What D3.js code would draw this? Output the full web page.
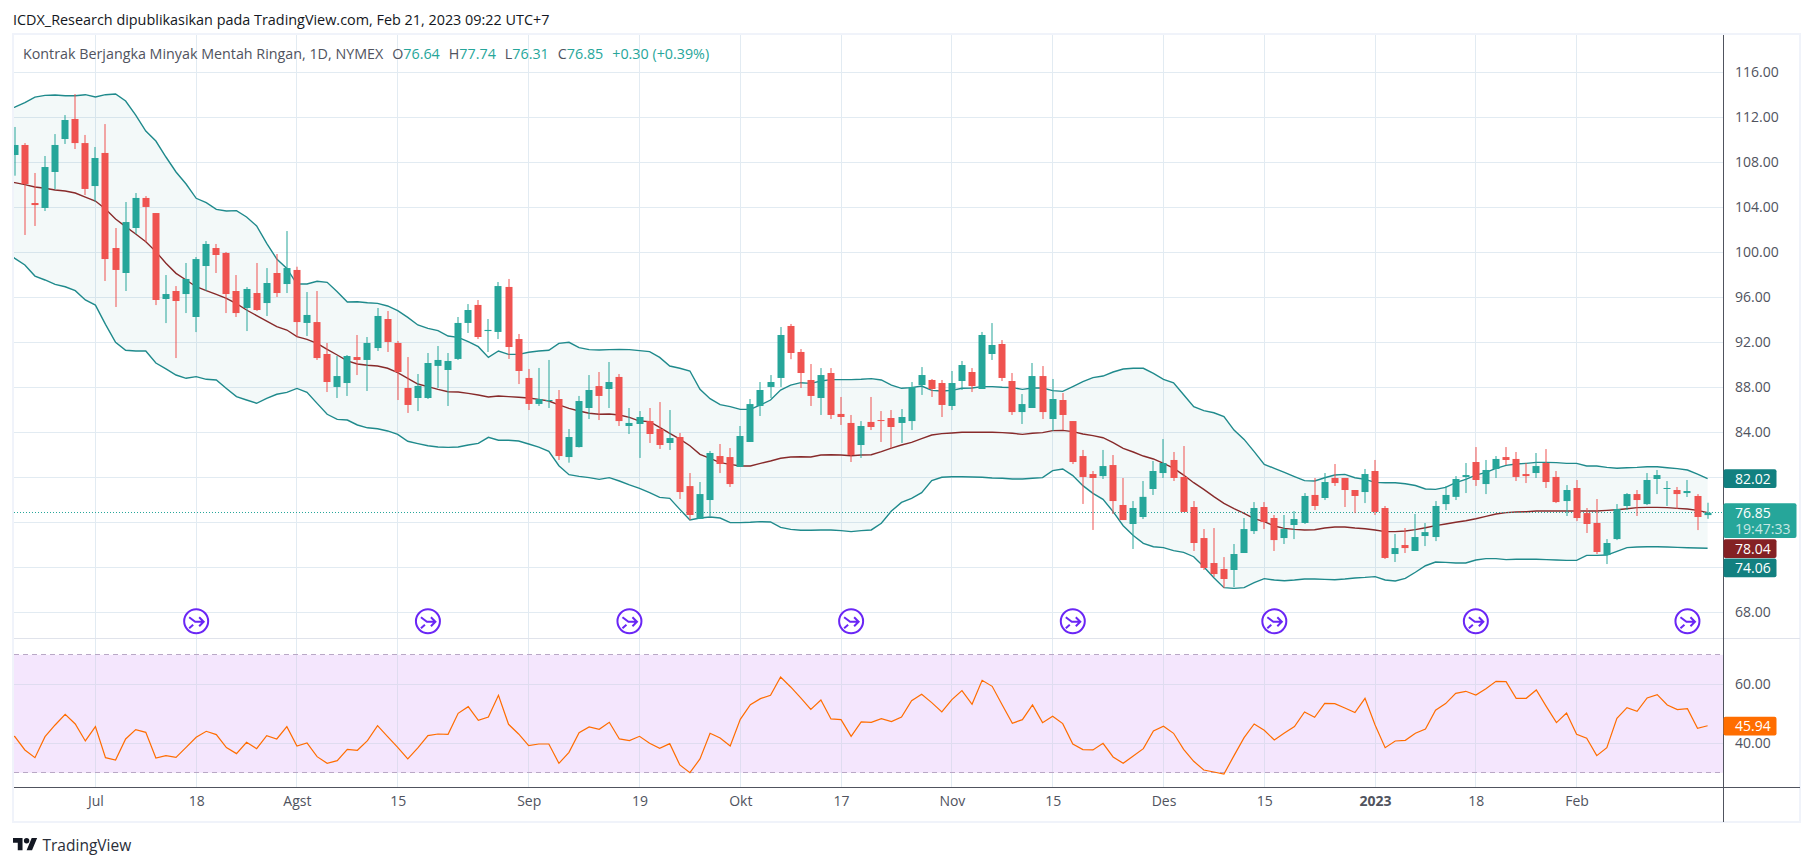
<!DOCTYPE html>
<html lang="id">
<head>
<meta charset="UTF-8">
<title>Kontrak Berjangka Minyak Mentah Ringan, 1D, NYMEX</title>
<style>
    body { margin: 0; background: #fff; }
    text { font-family: "Open Sans", sans-serif; }
</style>
</head>
<body>
<div class="graph-container"></div>
<script src="https://d3js.org/d3.v7.min.js"></script>
<script>
var opens = [108.65,109.54,104.38,103.94,107.14,110.07,111.85,109.71,105.89,108.83,
    100.38,98.16,102.16,104.83,103.49,95.85,96.56,96.29,94.25,98.78,
    100.38,99.94,96.56,95.05,96.38,95.49,98.16,97.18,98.43,93.72,
    93.8,90.96,88.03,88.38,90.69,90.43,91.49,94.07,91.94,87.94,
    87.05,87.05,89.9,89.54,90.52,93.72,95.32,93.0,92.92,96.92,
    92.29,88.83,86.52,86.78,86.96,81.8,82.69,86.16,88.11,87.85,
    88.92,84.56,84.74,85.0,84.29,83.05,83.58,79.22,76.3,77.98,
    81.89,81.8,80.92,83.14,86.34,88.03,88.83,93.45,91.14,88.65,
    87.05,89.27,85.63,84.83,82.87,84.92,85.09,85.27,84.83,85.0,
    88.2,88.65,88.38,86.34,88.56,89.36,87.85,90.96,91.85,88.56,
    85.8,86.16,89.0,85.18,86.87,85.0,81.89,80.29,80.11,81.09,
    77.54,75.85,76.47,78.96,80.38,81.54,80.03,77.36,74.6,72.38,
    71.85,71.76,73.27,75.22,77.36,76.38,74.6,75.76,75.94,78.43,
    78.16,79.94,79.94,78.87,78.69,80.56,77.27,73.18,73.98,73.45,
    74.78,74.69,77.62,78.26,80.03,81.36,79.4,80.74,81.8,81.63,
    80.29,80.38,81.27,80.03,77.89,79.05,76.82,75.94,73.09,74.51,
    77.45,78.51,77.62,79.85,78.96,78.87,78.6,78.34,76.64];
var highs = [111.14,109.71,107.05,108.56,110.51,112.2,114.07,110.43,109.36,111.4,
    102.16,104.47,105.27,105.0,103.49,97.98,97.0,99.05,99.58,101.0,
    100.74,100.03,97.98,96.91,99.05,98.6,99.85,101.89,98.72,96.47,
    96.56,91.94,90.78,90.87,92.65,92.47,95.05,94.78,92.12,90.69,
    89.18,91.05,91.67,91.05,94.25,95.4,95.76,94.07,97.36,97.63,
    92.74,89.63,89.72,90.43,87.76,84.29,87.23,89.09,89.36,90.25,
    89.18,86.16,85.89,86.16,86.69,85.98,83.94,80.38,79.58,82.34,
    82.96,82.6,84.56,86.96,88.47,89.09,93.36,93.63,91.4,90.07,
    89.71,89.71,87.14,85.54,85.0,87.14,85.89,85.98,86.07,88.47,
    89.8,88.74,88.65,89.45,90.34,89.71,92.92,93.71,92.2,89.27,
    87.4,90.16,89.89,88.74,87.49,85.0,82.43,80.56,82.43,81.98,
    79.94,77.89,79.67,81.45,83.4,82.25,82.78,77.89,75.4,75.49,
    72.91,74.07,76.38,77.8,77.8,76.65,76.65,77.0,78.6,79.94,
    80.38,81.18,79.94,78.87,80.74,81.54,77.45,74.96,75.49,76.74,
    75.94,77.89,79.23,80.11,81.27,82.69,81.54,81.89,82.69,82.25,
    81.27,82.16,82.51,80.56,79.31,79.76,77.27,78.07,74.51,77.62,
    78.6,78.87,80.38,80.65,79.67,79.14,79.76,78.51,77.74];
var lows = [106.81,101.54,102.34,103.67,105.6,109.63,109.18,105.09,104.5,97.45,
    95.14,96.56,101.63,100.91,95.31,93.71,90.6,94.6,92.91,96.56,
    98.16,94.6,94.25,93.0,94.78,94.34,96.03,96.38,92.5,92.56,
    90.43,87.58,87.05,87.23,89.09,87.67,91.23,91.14,86.87,85.72,
    85.89,86.96,87.94,86.34,90.43,92.83,92.29,91.14,92.29,90.52,
    88.29,85.98,86.34,86.16,81.54,81.3,82.65,85.18,85.09,86.16,
    84.56,83.85,81.72,83.05,82.52,82.43,78.07,76.2,76.29,76.56,
    80.38,79.14,80.92,83.14,85.45,87.05,88.03,90.5,87.94,86.34,
    85.54,85.18,84.65,81.36,81.72,84.2,83.14,82.6,83.05,84.2,
    87.32,87.14,85.36,85.98,87.76,87.58,87.85,90.43,88.56,85.54,
    84.74,86.16,85.18,84.12,84.2,81.18,77.63,75.32,79.85,76.74,
    76.2,73.63,76.29,78.43,79.94,79.67,76.92,73.45,71.76,71.14,
    70.16,70.25,73.27,74.96,75.4,73.45,74.07,74.51,75.85,77.09,
    77.98,79.23,77.36,76.82,77.71,76.65,72.74,72.47,73.27,73.45,
    73.89,74.33,77.09,77.98,78.6,79.23,78.51,79.94,81.09,79.67,
    79.49,79.94,79.05,77.71,76.56,76.11,75.05,73.18,72.29,74.42,
    77.09,76.56,77.53,78.51,77.45,77.18,78.25,75.31,76.31];
var closes = [109.54,106.07,104.2,107.58,109.54,111.76,109.71,105.63,108.38,99.4,
    98.43,102.69,104.83,104.03,95.76,96.29,95.67,97.63,99.4,100.74,
    99.76,96.29,94.6,96.74,94.87,97.27,96.38,98.6,93.8,94.43,
    90.6,88.47,89.0,90.78,90.43,91.94,94.34,92.03,89.36,86.43,
    88.12,90.16,90.43,90.34,93.72,94.87,92.47,93.1,97.0,91.58,
    89.45,86.52,86.96,86.87,81.89,83.58,86.78,87.76,87.23,88.47,
    85.0,84.83,85.36,83.85,82.87,83.49,78.69,76.65,78.51,82.16,
    81.18,79.4,83.67,86.51,87.76,88.47,92.65,91.05,89.27,87.23,
    89.09,85.54,85.36,81.98,84.56,84.47,85.0,84.47,85.36,88.03,
    89.09,87.85,86.43,88.38,89.98,88.11,92.65,91.76,88.83,85.8,
    86.51,89.0,85.8,86.96,85.54,81.36,80.03,79.94,81.0,77.89,
    76.2,77.27,78.26,80.56,81.27,79.94,76.92,74.16,71.94,71.4,
    70.96,73.18,75.4,77.27,76.03,74.42,75.4,76.29,78.34,77.45,
    79.58,79.49,78.87,78.34,80.29,76.92,72.83,73.71,73.71,74.69,
    75.13,77.45,78.43,79.85,80.2,79.76,80.65,81.63,81.54,80.03,
    80.11,81.0,79.58,77.8,78.87,76.38,75.85,73.36,74.16,77.18,
    78.51,77.98,79.76,80.2,79.05,78.51,78.78,76.47,76.85];
// bar -1 of each indicator, only its last stretch shows at the left edge
var bbUpper = [112.6,112.91,113.3,113.8,113.95,113.98,113.92,113.92,114.01,113.8,114.01,
    114.07,113.45,112.2,110.78,109.89,108.47,107.14,106.07,104.8,104.41,
    103.82,103.67,103.7,103.14,102.34,100.8,99.4,98.57,97.18,97.18,
    97.42,97.33,96.5,95.58,95.61,95.52,95.46,95.23,94.81,94.22,
    93.54,93.24,93.04,92.56,92.44,92.06,91.61,90.66,91.23,90.93,
    90.93,91.11,91.23,91.29,91.91,92.0,91.52,91.35,91.32,91.35,
    91.37,91.35,91.26,91.17,90.66,89.89,89.69,89.45,87.82,86.99,
    86.46,86.28,86.04,86.04,86.43,86.87,87.76,88.2,88.41,88.35,
    88.56,88.68,88.68,88.68,88.71,88.77,88.65,88.2,87.91,87.97,
    88.11,87.73,87.67,87.73,87.91,87.94,88.06,88.06,88.0,87.97,
    87.82,87.94,87.94,87.7,87.64,88.06,88.5,88.86,89.0,89.36,
    89.63,89.69,89.69,89.24,88.7,88.4,87.34,86.27,85.92,85.74,
    85.39,84.2,83.37,82.28,81.15,80.8,80.44,80.06,79.7,79.67,
    79.96,80.2,80.26,79.96,79.82,79.55,79.52,79.52,79.43,79.27,
    78.96,78.93,79.1,79.52,79.82,80.2,80.44,80.8,81.06,81.18,
    81.24,81.33,81.33,81.3,81.24,81.24,81.0,81.0,80.88,80.8,
    80.85,80.88,80.94,80.94,80.85,80.77,80.65,80.29,79.88];
var bbBasis = [106.35,106.19,106.01,105.8,105.69,105.54,105.45,105.27,104.91,104.56,103.85,
    102.96,102.28,101.63,100.94,100.06,99.02,98.13,97.54,96.94,96.59,
    96.26,95.91,95.43,94.87,94.37,93.89,93.39,93.09,92.5,92.26,
    91.91,91.37,90.87,90.34,90.07,89.96,89.89,89.69,89.3,88.8,
    88.29,88.06,87.82,87.61,87.58,87.46,87.32,87.14,87.23,87.17,
    87.11,87.05,86.93,86.78,86.43,86.13,85.89,85.69,85.6,85.63,
    85.54,85.33,85.0,84.95,84.44,83.91,83.4,82.81,82.04,81.69,
    81.3,81.15,81.0,81.0,81.24,81.45,81.69,81.8,81.83,81.8,
    81.98,82.01,81.98,81.92,81.98,82.01,82.28,82.6,82.87,83.11,
    83.43,83.76,83.88,83.94,84.0,84.0,84.0,84.0,83.97,83.91,
    83.82,83.91,83.97,84.15,84.17,84.06,83.85,83.7,83.52,83.08,
    82.57,82.25,81.89,81.63,81.24,80.82,80.2,79.52,78.93,78.28,
    77.68,77.21,76.8,76.32,76.06,75.67,75.46,75.37,75.31,75.34,
    75.49,75.58,75.58,75.49,75.43,75.31,75.17,75.17,75.23,75.35,
    75.52,75.7,75.85,76.0,76.14,76.32,76.53,76.74,76.86,76.91,
    76.94,77.0,77.0,77.0,77.0,77.0,77.0,77.0,77.06,77.12,
    77.21,77.3,77.33,77.33,77.3,77.24,77.18,77.06,76.86];
var bbLower = [100.1,99.46,98.87,97.89,97.54,97.15,96.94,96.59,95.76,95.31,93.6,
    92.0,91.29,91.23,91.23,90.16,89.63,89.09,88.8,88.95,88.71,
    88.65,87.9,87.17,86.87,86.58,87.02,87.38,87.55,87.9,87.55,
    86.57,85.6,85.15,85.09,84.65,84.4,84.32,84.12,83.82,83.2,
    82.99,82.8,82.69,82.66,82.69,82.87,83.02,83.55,83.29,83.29,
    83.23,82.96,82.69,82.31,81.03,80.23,80.08,79.97,79.82,79.97,
    79.67,79.32,79.02,78.63,78.22,78.13,77.15,76.2,76.38,76.47,
    76.38,75.97,75.97,76.0,76.06,76.03,75.55,75.37,75.29,75.29,
    75.32,75.32,75.26,75.17,75.26,75.32,75.91,77.0,77.77,78.13,
    78.63,79.7,80.0,80.05,80.05,80.03,80.0,79.94,79.91,79.85,
    79.85,79.91,79.97,80.59,80.74,80.15,79.26,78.57,78.04,76.95,
    75.7,74.82,74.13,73.83,73.75,73.48,73.33,72.94,72.05,71.08,
    70.19,70.13,70.19,70.63,70.99,70.87,70.81,70.87,70.96,70.96,
    70.93,70.9,70.96,71.05,71.1,71.17,70.87,70.78,71.02,71.56,
    72.14,72.47,72.44,72.38,72.38,72.65,72.77,72.77,72.68,72.71,
    72.71,72.71,72.68,72.65,72.62,72.62,73.06,73.06,73.09,73.42,
    73.75,73.8,73.83,73.83,73.8,73.77,73.74,73.71,73.69];
var rsiValues = [43.2,42.26,37.74,35.14,42.26,46.21,49.83,46.55,40.79,45.65,35.14,
    34.35,41.47,44.63,43.73,35.03,35.82,35.25,38.64,42.03,44.07,
    42.94,38.53,36.5,40.34,38.19,42.6,41.47,45.65,39.1,40.11,
    35.48,33.22,34.12,37.96,37.63,40.9,45.99,42.26,38.64,34.69,
    38.42,42.6,43.16,43.05,50.17,52.43,47.8,48.93,56.27,46.44,
    43.16,39.21,39.77,39.77,33.22,36.95,43.61,45.54,44.74,47.12,
    41.47,40.9,42.37,40.0,38.3,39.89,32.65,30.05,34.69,43.39,
    41.81,39.1,48.13,53.11,55.14,56.27,62.49,59.1,55.37,51.52,
    54.69,48.25,48.02,42.37,47.23,47.12,48.36,47.34,48.93,54.46,
    56.61,53.78,50.62,54.8,57.85,53.22,61.36,59.32,52.99,46.78,
    48.02,52.99,47.0,49.15,46.67,39.77,37.85,37.74,40.0,35.37,
    33.22,35.7,38.19,44.18,45.76,43.39,37.96,33.9,30.96,30.28,
    29.6,35.82,41.92,46.55,44.41,41.13,43.5,45.65,50.62,48.81,
    53.56,53.45,51.98,50.4,55.25,46.21,38.53,40.79,41.02,43.39,
    44.86,51.19,53.45,56.95,57.63,56.38,58.53,61.02,60.9,55.25,
    55.25,58.08,52.43,47.0,50.28,43.05,41.69,35.82,38.53,48.47,
    52.09,50.85,55.37,56.5,52.99,51.41,51.75,45.08,45.94];

var priceTicks = [116,112,108,104,100,96,92,88,84,68];
var priceGrid = [116,112,108,104,100,96,92,88,84,80,76,72,68];
var rsiTicks = [60,40];
var rsiBounds = [70,30];
var dateTickIdx = [8,18,28,38,51,62,72,82,93,103,114,124,135,145,155];
var dateTickLabels = ["Jul","18","Agst","15","Sep","19","Okt","17","Nov","15","Des","15","2023","18","Feb"];
var eventIdx = [18,41,61,83,105,125,145,166];

var width = 1813, height = 866;
var paneLeft = 14, paneRight = 1723.5, chartRight = 1800;
var paneTop = 35, paneSplit = 638.5, rsiBottom = 787.5, chartBottom = 822;

var up = "#26a69a", down = "#ef5350", bandColor = "#1f8a8c", gridColor = "#e2ebf2", axisColor = "#50535e";

var x = d3.scaleLinear().domain([0, 168]).range([14.8, 1707.6]);
var y = d3.scaleLinear().domain([116, 68]).range([72.3, 612.3]);
var yRsi = d3.scaleLinear().domain([60, 40]).range([684.3, 743.3]);

var svg = d3.select(".graph-container").append("svg")
    .attr("width", width).attr("height", height)
    .style("display", "block");

svg.append("defs").append("clipPath").attr("id", "main-clip")
    .append("rect").attr("x", paneLeft - 1).attr("y", paneTop)
    .attr("width", paneRight - paneLeft + 1).attr("height", paneSplit - paneTop);

svg.append("text").attr("x", 13).attr("y", 25).attr("font-size", 14.4).attr("fill", "#131722")
    .text("ICDX_Research dipublikasikan pada TradingView.com, Feb 21, 2023 09:22 UTC+7");

// rsi background sits under the grid
svg.append("rect").attr("x", paneLeft).attr("width", paneRight - paneLeft)
    .attr("y", yRsi(rsiBounds[0])).attr("height", yRsi(rsiBounds[1]) - yRsi(rsiBounds[0]))
    .attr("fill", "#f4e6fd");

// vertical grid, both panes
var grid = svg.append("g").attr("shape-rendering", "crispEdges");
grid.append("g").selectAll("line").data(dateTickIdx).enter().append("line")
    .attr("x1", function(d) { return x(d); }).attr("x2", function(d) { return x(d); })
    .attr("y1", paneTop).attr("y2", rsiBottom)
    .attr("stroke", gridColor);
grid.append("g").selectAll("line").data(dateTickIdx).enter().append("line")
    .attr("x1", function(d) { return x(d); }).attr("x2", function(d) { return x(d); })
    .attr("y1", yRsi(rsiBounds[0])).attr("y2", yRsi(rsiBounds[1]))
    .attr("stroke", "#dfdcf0");

grid.append("g").selectAll("line").data(priceGrid).enter().append("line")
    .attr("x1", paneLeft).attr("x2", paneRight)
    .attr("y1", function(d) { return y(d); }).attr("y2", function(d) { return y(d); })
    .attr("stroke", gridColor);

grid.append("g").selectAll("line").data(rsiTicks).enter().append("line")
    .attr("x1", paneLeft).attr("x2", paneRight)
    .attr("y1", function(d) { return yRsi(d); }).attr("y2", function(d) { return yRsi(d); })
    .attr("stroke", "#dfdcf0");

grid.append("g").selectAll("line").data(rsiBounds).enter().append("line")
    .attr("x1", paneLeft).attr("x2", paneRight)
    .attr("y1", function(d) { return yRsi(d); }).attr("y2", function(d) { return yRsi(d); })
    .attr("stroke", "#b9a8c6").attr("stroke-dasharray", "5,4");

// bollinger bands, index 0 of these arrays is the bar before the first candle
var main = svg.append("g").attr("clip-path", "url(#main-clip)");

var bandArea = d3.area()
    .x(function(d, i) { return x(i - 1); })
    .y0(function(d, i) { return y(bbLower[i]); })
    .y1(function(d) { return y(d); });
main.append("path").datum(bbUpper).attr("d", bandArea).attr("fill", "#008080").attr("fill-opacity", 0.048);

var bandLine = d3.line().x(function(d, i) { return x(i - 1); }).y(function(d) { return y(d); });
main.append("path").datum(bbUpper).attr("d", bandLine).attr("fill", "none").attr("stroke", bandColor).attr("stroke-width", 1.4);
main.append("path").datum(bbLower).attr("d", bandLine).attr("fill", "none").attr("stroke", bandColor).attr("stroke-width", 1.4);
main.append("path").datum(bbBasis).attr("d", bandLine).attr("fill", "none").attr("stroke", "#872a2a").attr("stroke-width", 1.4);

// last price line
main.append("line").attr("x1", paneLeft).attr("x2", paneRight)
    .attr("y1", y(closes[168])).attr("y2", y(closes[168]))
    .attr("stroke", up).attr("stroke-dasharray", "1,2").attr("shape-rendering", "crispEdges");

// candles
var candles = main.append("g").selectAll("g").data(d3.range(opens.length)).enter().append("g")
    .attr("fill", function(i) { return closes[i] >= opens[i] ? up : down; })
    .attr("stroke", "none");
candles.append("rect").attr("width", 1)
    .attr("x", function(i) { return Math.round(x(i)) - 0.5; })
    .attr("y", function(i) { return y(highs[i]); })
    .attr("height", function(i) { return y(lows[i]) - y(highs[i]); });
candles.append("rect").attr("width", 7)
    .attr("x", function(i) { return Math.round(x(i)) - 3.5; })
    .attr("y", function(i) { return y(Math.max(opens[i], closes[i])); })
    .attr("height", function(i) { return Math.max(1, Math.abs(y(opens[i]) - y(closes[i]))); });

// event markers
var eventMarks = svg.append("g").selectAll("g").data(eventIdx).enter().append("g")
    .attr("transform", function(d) { return "translate(" + x(d) + ",621.3)"; })
    .attr("fill", "none").attr("stroke", "#6a26f5");
eventMarks.append("circle").attr("r", 12).attr("fill", "#fff").attr("stroke-width", 2);
eventMarks.append("path").attr("stroke-width", 2)
    .attr("d", "M-7,-4L-1,0.5H7M3,-4L7.5,0.5L3,5M-3,3.5L-7,7");

// rsi line
svg.append("path").datum(rsiValues)
    .attr("d", d3.line().x(function(d, i) { return x(i - 1); }).y(function(d) { return yRsi(d); }))
    .attr("clip-path", "url(#rsi-clip)")
    .attr("fill", "none").attr("stroke", "#ff6d00").attr("stroke-width", 1.2);
svg.select("defs").append("clipPath").attr("id", "rsi-clip")
    .append("rect").attr("x", paneLeft - 1).attr("y", paneSplit)
    .attr("width", paneRight - paneLeft + 1).attr("height", rsiBottom - paneSplit);

// frame, pane separators and axis lines
svg.append("rect").attr("x", paneLeft - 1).attr("y", paneTop - 1)
    .attr("width", chartRight - paneLeft + 1).attr("height", chartBottom - paneTop + 1)
    .attr("fill", "none").attr("stroke", "#f0f3fa").attr("stroke-width", 2);
svg.append("line").attr("x1", paneLeft).attr("x2", chartRight).attr("y1", paneSplit).attr("y2", paneSplit).attr("stroke", "#e0e3eb");
svg.append("line").attr("x1", paneLeft).attr("x2", chartRight).attr("y1", rsiBottom).attr("y2", rsiBottom).attr("stroke", axisColor);
svg.append("line").attr("x1", paneRight).attr("x2", paneRight).attr("y1", paneTop).attr("y2", chartBottom).attr("stroke", axisColor);

// axes
var priceAxis = d3.axisRight(y).tickValues(priceTicks).tickSize(0).tickPadding(11.5).tickFormat(d3.format(".2f"));
var rsiAxis = d3.axisRight(yRsi).tickValues(rsiTicks).tickSize(0).tickPadding(11.5).tickFormat(d3.format(".2f"));
var dateAxis = d3.axisBottom(x).tickValues(dateTickIdx).tickSize(0).tickPadding(9)
    .tickFormat(function(d, i) { return dateTickLabels[i]; });

function styleAxis(g) {
    g.select(".domain").remove();
    g.selectAll("text").attr("font-size", 14).attr("fill", axisColor)
        .style("font-family", '"Open Sans", sans-serif');
}
svg.append("g").attr("transform", "translate(" + paneRight + ",0)").call(priceAxis).call(styleAxis);
svg.append("g").attr("transform", "translate(" + paneRight + ",0)").call(rsiAxis).call(styleAxis);
svg.append("g").attr("transform", "translate(0," + rsiBottom + ")").call(dateAxis).call(styleAxis)
    .selectAll("text").attr("font-weight", function(d, i) { return dateTickLabels[i] === "2023" ? 700 : 400; });

// price labels, stacked the way the platform nudges them apart
var closeTop = y(closes[168]) - 9.5;
var priceLabels = [
    { text: "82.02", y: y(bbUpper[169]) - 9.3, w: 53, fill: "#128080" },
    { text: "78.04", y: closeTop + 36, w: 53, fill: "#842124" },
    { text: "74.06", y: closeTop + 55.3, w: 53, fill: "#128080" },
    { text: "45.94", y: yRsi(rsiValues[169]) - 9, w: 53, fill: "#ff6d00" }
];
svg.append("rect").attr("x", paneRight).attr("y", closeTop).attr("width", 73).attr("height", 34.7).attr("rx", 2).attr("fill", up);
svg.append("text").attr("x", paneRight + 11.5).attr("y", closeTop + 15).attr("font-size", 14).attr("fill", "#fff").text("76.85");
svg.append("text").attr("x", paneRight + 11.5).attr("y", closeTop + 30.5).attr("font-size", 14).attr("fill", "#fff").attr("fill-opacity", 0.75).text("19:47:33");
priceLabels.forEach(function(d) {
    svg.append("rect").attr("x", paneRight).attr("y", d.y).attr("width", d.w).attr("height", 18.7).attr("rx", 2).attr("fill", d.fill);
    svg.append("text").attr("x", paneRight + 11.5).attr("y", d.y + 14.3).attr("font-size", 14).attr("fill", "#fff").text(d.text);
});

// legend
var legend = svg.append("text").attr("x", 23).attr("y", 58.5).attr("font-size", 14.3);
legend.append("tspan").attr("fill", "#50535e").text("Kontrak Berjangka Minyak Mentah Ringan, 1D, NYMEX");
[["O","76.64"],["H","77.74"],["L","76.31"],["C","76.85"]].forEach(function(p) {
    legend.append("tspan").attr("dx", 9).attr("fill", "#50535e").text(p[0]);
    legend.append("tspan").attr("fill", up).text(p[1]);
});
legend.append("tspan").attr("dx", 9).attr("fill", up).text("+0.30 (+0.39%)");

// TradingView mark
var logo = svg.append("g").attr("transform", "translate(13,835.3) scale(0.68)").attr("fill", "#131722");
logo.append("path").attr("d", "M14 22H7V11H0V4h14v18zM28 22h-8l7.5-18h8L28 22z");
logo.append("circle").attr("cx", 20).attr("cy", 8).attr("r", 4);
svg.append("text").attr("x", 42.5).attr("y", 851).attr("font-size", 15.5).attr("fill", "#2a2e39").text("TradingView");
</script>
</body>
</html>
